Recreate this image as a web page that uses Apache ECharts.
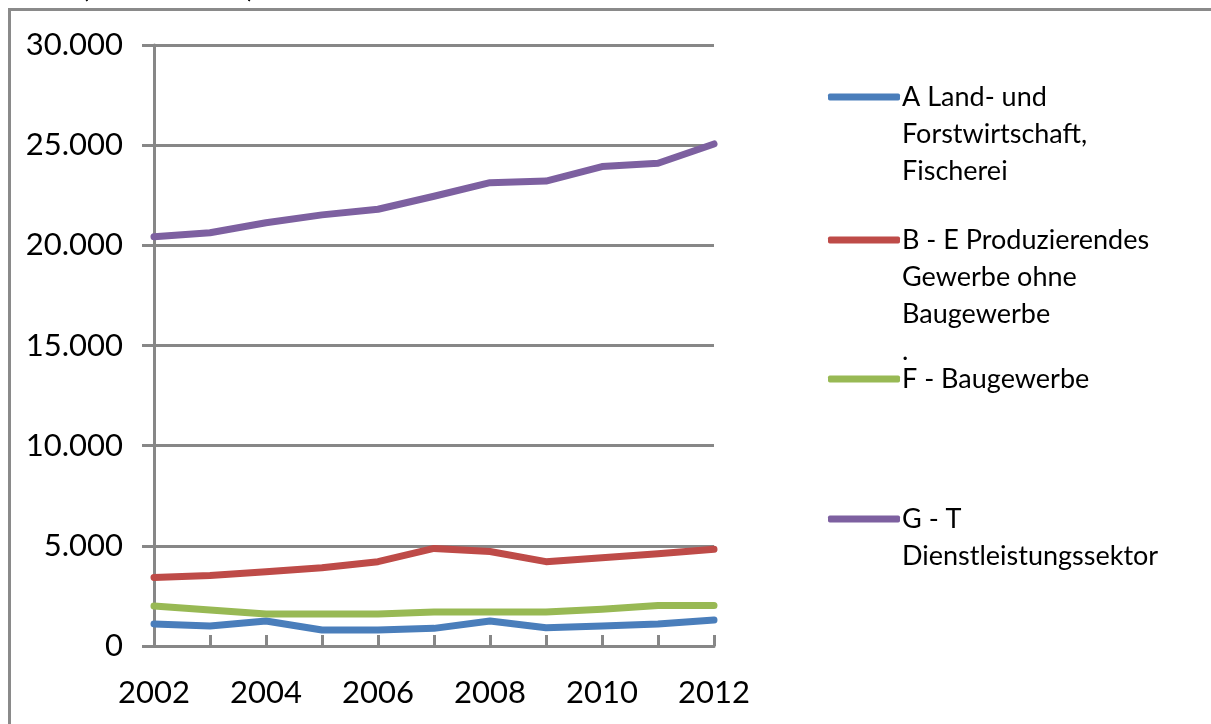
<!DOCTYPE html>
<html>
<head>
<meta charset="utf-8">
<script src="https://cdn.jsdelivr.net/npm/echarts@6/dist/echarts.min.js"></script>
<style>html,body{margin:0;padding:0;background:#fff}#c{width:1211px;height:724px}</style>
</head>
<body>
<div id="c"></div>
<script>
const years = ['2002','2003','2004','2005','2006','2007','2008','2009','2010','2011','2012'];
const seriesNames = [
  'A Land- und Forstwirtschaft, Fischerei',
  'B - E Produzierendes Gewerbe ohne Baugewerbe',
  'F - Baugewerbe',
  'G - T Dienstleistungssektor'
];
const legendLines = [
  ['A Land- und', 'Forstwirtschaft,', 'Fischerei'],
  ['B - E Produzierendes', 'Gewerbe ohne', 'Baugewerbe', '.'],
  ['F - Baugewerbe'],
  ['G - T', 'Dienstleistungssektor']
];
const valuesA = [1100, 1000, 1250, 800, 800, 880, 1250, 910, 1000, 1100, 1300];
const valuesBE = [3420, 3520, 3710, 3910, 4210, 4870, 4720, 4210, 4410, 4600, 4830];
const valuesF = [2000, 1800, 1600, 1600, 1600, 1700, 1700, 1700, 1830, 2020, 2020];
const valuesGT = [20430, 20630, 21130, 21520, 21800, 22450, 23130, 23210, 23930, 24100, 25060];
const yTicks = [0, 5000, 10000, 15000, 20000, 25000, 30000];
const titleText = 'Bruttowertschöpfung nach Wirtschaftsbereichen (in Mio. Euro)';

const colors = ['#4A7EBB', '#BE4B48', '#98B954', '#7D60A0'];
const allValues = [valuesA, valuesBE, valuesF, valuesGT];
const LH = 37;
const iconY = [97, 240, 379, 519];

const legends = seriesNames.map((name, i) => {
  const lines = legendLines[i];
  const pad = lines.length - 1;
  const block = Array(pad).fill('').concat(lines);
  const h = block.length * LH;
  return {
    data: [name],
    left: 828,
    top: iconY[i] - h / 2,
    padding: 0,
    icon: 'roundRect',
    itemWidth: 72,
    itemHeight: 7,
    itemStyle: {color: colors[i], borderWidth: 0},
    selectedMode: false,
    formatter: () => block.join('\n'),
    textStyle: {fontFamily: 'Lato', fontSize: 27, color: '#000', lineHeight: LH, padding: [0,0,0,-3]}
  };
});

const fmt = v => v === 0 ? '0' : String(v).replace(/\B(?=(\d{3})+(?!\d))/g, '.');

const chart = echarts.init(document.getElementById('c'), null, {renderer: 'canvas'});
chart.setOption({
  animation: false,
  backgroundColor: '#fff',
  graphic: [
    {type: 'rect', shape: {x: 9.5, y: 9.5, width: 1400, height: 1000}, style: {fill: 'none', stroke: '#8a8a8a', lineWidth: 3}, z: 0},
    {type: 'text', x: 255, y: 2, style: {text: titleText, fontFamily: 'Lato', fontSize: 30, fill: '#000', align: 'right', verticalAlign: 'bottom'}}
  ],
  legend: legends,
  grid: {left: 154, right: 497, top: 45, bottom: 78, containLabel: false},
  xAxis: {
    type: 'category',
    data: years,
    boundaryGap: false,
    axisLine: {lineStyle: {color: '#878787', width: 3}},
    axisTick: {show: true, inside: true, length: 11, interval: 0, lineStyle: {color: '#878787', width: 3}},
    axisLabel: {interval: 1, fontFamily: 'Lato', fontSize: 31, color: '#000', margin: 31},
    splitLine: {show: false}
  },
  yAxis: {
    type: 'value',
    min: 0, max: 30000, interval: 5000,
    axisLine: {show: true, lineStyle: {color: '#878787', width: 3}},
    axisTick: {show: true, length: 12, lineStyle: {color: '#878787', width: 3}},
    axisLabel: {formatter: v => yTicks.includes(v) ? fmt(v) : '', fontFamily: 'Lato', fontSize: 31, color: '#000', margin: 31},
    splitLine: {show: true, lineStyle: {color: '#878787', width: 3}}
  },
  series: seriesNames.map((name, i) => ({
    name, type: 'line', data: allValues[i],
    symbol: 'none', showSymbol: false,
    color: colors[i],
    lineStyle: {color: colors[i], width: 7, cap: 'round', join: 'round'},
    z: 3
  }))
});
</script>
</body>
</html>
